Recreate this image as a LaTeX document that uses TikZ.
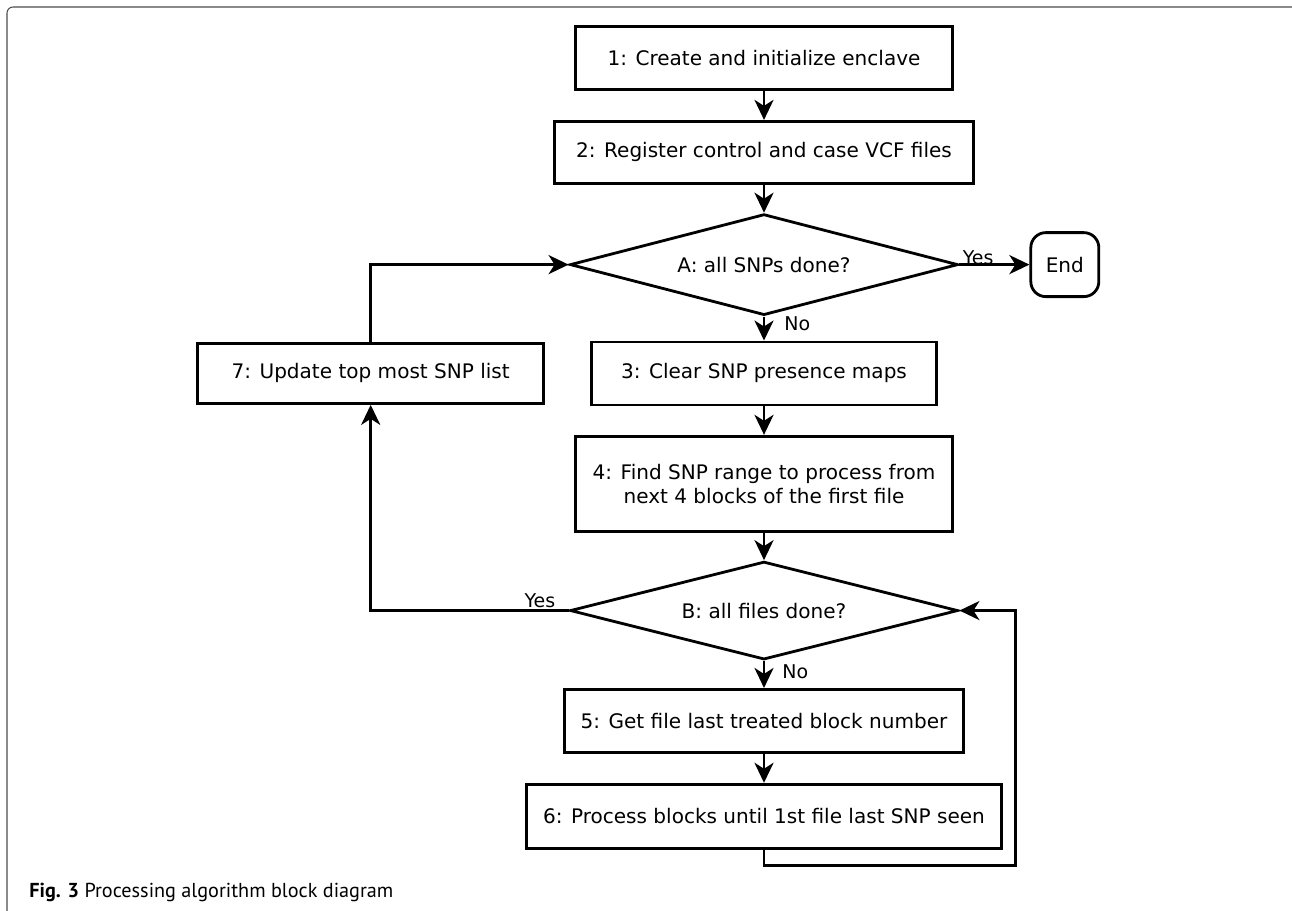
\documentclass[tikz,border=0pt]{standalone}
\usepackage{fontspec}
\setmainfont{DejaVu Sans}
\newfontfamily\capfont{PT Sans}
\usepackage{tikz}
\usetikzlibrary{shapes.geometric, arrows.meta, positioning}

\begin{document}
\begin{tikzpicture}[
    node distance=0.57cm,
    blk/.style={draw, line width=1.6pt, minimum height=1.26cm, align=center, font=\fontsize{11.4}{13.7}\selectfont},
    dec/.style={draw, diamond, aspect=3.8, line width=1.6pt, inner sep=0pt, minimum width=7.76cm, minimum height=2.02cm, font=\fontsize{11.4}{13.7}\selectfont},
    term/.style={draw, line width=1.6pt, rounded corners=0.3cm, minimum width=1.36cm, minimum height=1.28cm, font=\fontsize{11.4}{13.7}\selectfont},
    lbl/.style={inner sep=0pt, font=\fontsize{10.8}{13}\selectfont},
    edge/.style={-{Stealth[length=0.4cm, width=0.38cm, inset=0.12cm]}, line width=1.6pt}
]
    \useasboundingbox (0,0) rectangle (25.84,-18.22);

    % page frame
    \coordinate (fbl) at (0.14,-18.3);
    \coordinate (ftr) at (25.9,-0.14);
    \draw[black!70, line width=0.6pt, rounded corners=0.12cm] (fbl) |- (ftr);

    \node[blk, minimum width=7.54cm] (init) at (15.28,-1.16) {1: Create and initialize enclave};
    \node[blk, minimum width=8.38cm, minimum height=1.24cm, below=0.58cm of init] (reg) {2: Register control and case VCF files};
    \draw[edge] (init) -- (reg);

    \node[dec, below=0.56cm of reg] (snpdone) {A: all SNPs done?};
    \draw[edge] (reg) -- (snpdone);
    \node[term, right=1.4cm of snpdone] (stop) {End};
    \draw[edge] (snpdone) -- (stop);
    \node[lbl, anchor=south west] (yesA) at ([xshift=0.06cm]snpdone.east) {Yes};

    \node[blk, minimum width=6.9cm, below=0.48cm of snpdone] (clear) {3: Clear SNP presence maps};
    \draw[edge] (snpdone) -- (clear);
    \node[lbl, anchor=west] (noA) at ([xshift=0.4cm,yshift=-0.15cm]snpdone.south) {No};

    \node[blk, minimum width=6.92cm, minimum height=1.2cm, left=0.9cm of clear] (update) {7: Update top most SNP list};

    \node[blk, minimum width=7.54cm, minimum height=1.9cm, below=of clear] (range) {4: Find SNP range to process from\\next 4 blocks of the first file};
    \draw[edge] (clear) -- (range);

    \node[dec, minimum height=1.96cm, below=0.55cm of range] (filedone) {B: all files done?};
    \draw[edge] (range) -- (filedone);
    \node[lbl, anchor=base east] (yesB) at ([xshift=-0.26cm,yshift=0.07cm]filedone.west) {Yes};
    \draw[edge] (filedone.west) -| (update.south);
    \draw[edge] (update.north) |- (snpdone.west);

    \node[blk, minimum width=7.98cm, minimum height=1.27cm, below=0.54cm of filedone] (last) {5: Get file last treated block number};
    \draw[edge] (filedone) -- (last);
    \node[lbl, anchor=west] (noB) at ([xshift=0.36cm,yshift=-0.22cm]filedone.south) {No};

    \node[blk, minimum width=9.5cm, minimum height=1.28cm, below=of last] (proc) {6: Process blocks until 1st file last SNP seen};
    \draw[edge] (last) -- (proc);

    \coordinate (back) at ([xshift=1.12cm]filedone.east);
    \draw[edge] (proc.south) -- ++(0,-0.32) -| (back) -- (filedone.east);

    \node[anchor=base west, inner sep=0pt, font=\capfont\fontsize{11.5}{13}\selectfont] (caption) at (0.58,-17.94) {\textbf{Fig. 3} Processing algorithm block diagram};

\end{tikzpicture}
\end{document}
